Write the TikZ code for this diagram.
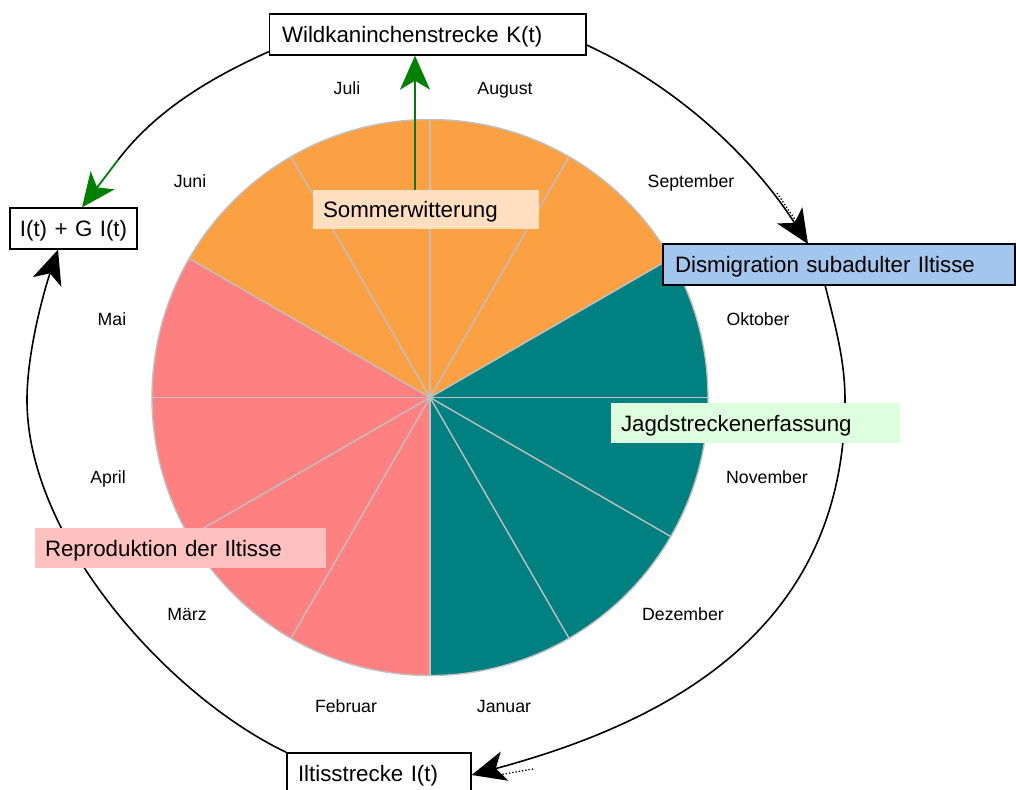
\documentclass[tikz,border=0pt]{standalone}
\usepackage{fontspec}
\setmainfont{Liberation Sans}
\usetikzlibrary{arrows.meta}
\definecolor{sommer}{HTML}{FCA044}
\definecolor{winter}{HTML}{008080}
\definecolor{fruehling}{HTML}{FF8080}
\definecolor{spoke}{HTML}{C0C0C0}
\definecolor{peach}{HTML}{FFDFC0}
\definecolor{skyblue}{HTML}{A3C6EE}
\definecolor{mint}{HTML}{DDFFDD}
\definecolor{rose}{HTML}{FFC0C0}
\definecolor{darkgreen}{HTML}{008000}
\newcommand\lblfont{\fontsize{22.3}{26}\selectfont}
\newcommand\monthfont{\fontsize{17.7}{21}\selectfont}
\begin{document}
\begin{tikzpicture}[x=1pt,y=-1pt,
  tip/.style={-{Stealth[length=34pt,width=30pt,inset=9pt]}},
  edge/.style={draw=black,line width=1.6pt},
  gedge/.style={draw=darkgreen,line width=1.8pt},
  spokeline/.style={draw=spoke,line width=1.4pt},
  month/.style={font=\monthfont,anchor=base,inner sep=0pt},
  lbl/.style={font=\lblfont,inner ysep=0pt,text height=16pt,text depth=0pt,align=left},
  framed/.style={lbl,draw=black,line width=1.3pt},
  trail/.style={draw=black,line width=1.3pt,dotted}
]
\useasboundingbox (0,0) rectangle (1016,789);

% year wheel: three seasons of four months each
\coordinate (C) at (430,397.5);
\fill[sommer]    (C) -- ++(30:278pt)  arc[start angle=30,  end angle=150, radius=278pt] -- cycle;
\fill[fruehling] (C) -- ++(150:278pt) arc[start angle=150, end angle=270, radius=278pt] -- cycle;
\fill[winter]    (C) -- ++(-90:278pt) arc[start angle=-90, end angle=30,  radius=278pt] -- cycle;
\foreach \a in {0,30,...,330}
  \draw[spokeline] (C) -- ++(\a:278pt);
\draw[spokeline] (C) circle[radius=278pt];

% month names
\node[month] (jul) at (347,95)  {Juli};
\node[month] (aug) at (505,95)  {August};
\node[month] (jun) at (190,187) {Juni};
\node[month] (sep) at (691,187) {September};
\node[month] (mai) at (112,325) {Mai};
\node[month] (okt) at (758,325) {Oktober};
\node[month] (apr) at (108,483) {April};
\node[month] (nov) at (767,483) {November};
\node[month] (mar) at (187,620) {März};
\node[month] (dez) at (683,620) {Dezember};
\node[month] (feb) at (346,712) {Februar};
\node[month] (jan) at (504,712) {Januar};

% boxes
\node[framed,fill=white,minimum height=41pt,text width=291.5pt,inner xsep=12.5pt] (K) at (427.75,34.5) {Wildkaninchenstrecke K(t)};
\node[framed,fill=white,minimum height=41pt,text width=115pt,inner xsep=6pt,align=center] (IG) at (73.5,228.5) {I(t) + G I(t)};
\node[framed,fill=white,minimum height=41pt,text width=162pt,inner xsep=11pt] (I) at (379,773.5) {Iltisstrecke I(t)};

% cycle connectors
\coordinate (g1) at (118,160);
\coordinate (r3) at (845,400);
\coordinate (l4) at (27,400);
\draw[edge] ([yshift=4pt]K.south west) .. controls (212,77) and (156,110) .. (g1);
\draw[gedge,tip] (g1) -- ([xshift=8.5pt]IG.north);
\draw[edge,tip] ([yshift=-10.5pt]K.east) .. controls (678,87) and (753,158) .. (808,244);
\draw[edge,tip] (825,285) .. controls (835,325) and (845,360) .. (r3)
  .. controls (845,620) and (684,718) .. ([yshift=-1.5pt]I.east);
\draw[edge,tip] (I.north west) .. controls (170,697) and (27,540) .. (l4)
  .. controls (27,350) and (45,288) .. ([xshift=-15.5pt]IG.south);
\draw[trail] (777,193) -- (796,221);
\draw[trail] (533,769) -- (498,775);

% process labels
\node[lbl,fill=peach,minimum height=39pt,text width=206pt,inner xsep=10pt] (S) at (426,209.5) {Sommerwitterung};
\node[framed,fill=skyblue,minimum height=41pt,text width=328pt,inner xsep=12pt] (D) at (839,264.5) {Dismigration subadulter Iltisse};
\node[lbl,fill=mint,minimum height=40pt,text width=269pt,inner xsep=10pt] (J) at (755.5,423) {Jagdstreckenerfassung};
\node[lbl,fill=rose,minimum height=40pt,text width=271pt,inner xsep=10pt] (R) at (180.5,548) {Reproduktion der Iltisse};

\draw[gedge,tip] ([xshift=-11pt]S.north) -- ([xshift=-11pt]S.north |- K.south);
\end{tikzpicture}
\end{document}
